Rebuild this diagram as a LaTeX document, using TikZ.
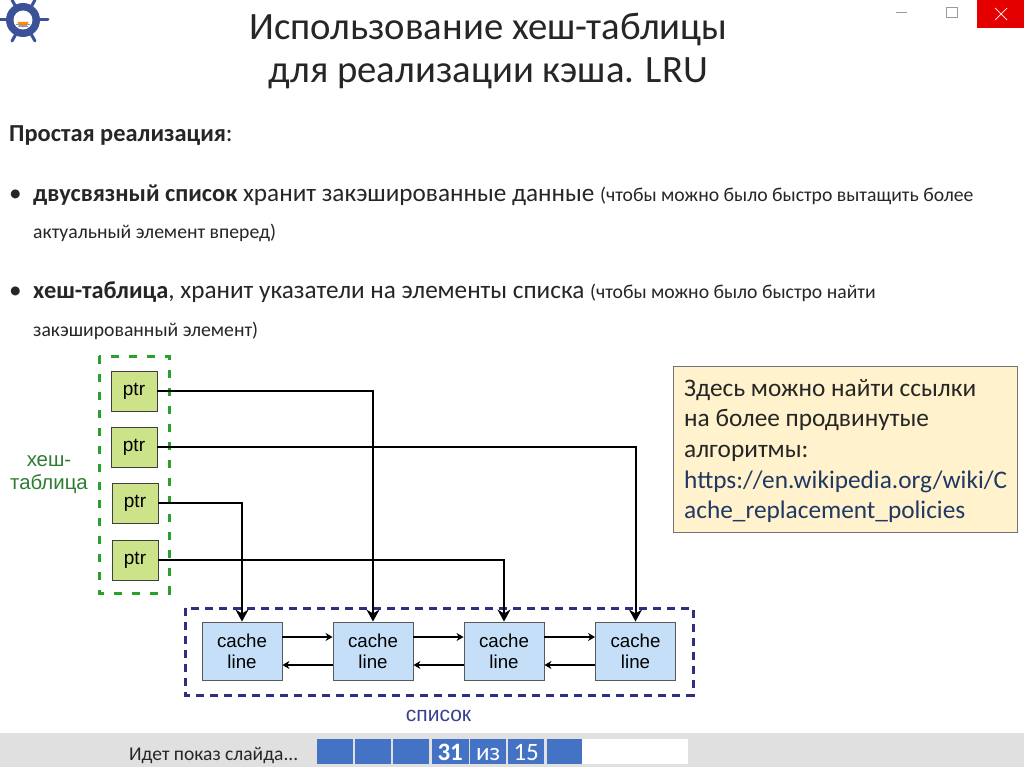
\documentclass[tikz,border=0pt]{standalone}
\usepackage{fontspec}
\setmainfont{Carlito}
\newfontfamily\arialfont{Liberation Sans}
\usetikzlibrary{arrows.meta}
\definecolor{ptrgreen}{HTML}{CDE38A}
\definecolor{dashgreen}{HTML}{2CA02C}
\definecolor{labelgreen}{HTML}{2E7D32}
\definecolor{cacheblue}{HTML}{C5DFF8}
\definecolor{listnavy}{HTML}{2F2F80}
\definecolor{labelnavy}{HTML}{3A3F8F}
\definecolor{notefill}{HTML}{FFF2CC}
\definecolor{slideblue}{HTML}{4472C4}
\definecolor{wheelblue}{HTML}{3B5296}
\definecolor{linkblue}{HTML}{1F3864}
\definecolor{softblack}{HTML}{262626}
\tikzset{
  ptrbox/.style={draw=black!75,line width=0.9pt,fill=ptrgreen,minimum width=46pt,minimum height=40pt,inner sep=0pt,font=\arialfont\fontsize{19}{19}\selectfont},
  cachebox/.style={draw=black!65,line width=0.9pt,fill=cacheblue,minimum width=80pt,minimum height=58pt,inner sep=0pt,align=center,font=\arialfont\fontsize{18.7}{21}\selectfont},
  link/.style={line width=2pt,-{Stealth[length=12pt,width=13pt]}},
  chain/.style={line width=1.1pt,-{Stealth[length=7pt,width=8pt]}},
  bodytext/.style={anchor=base west,inner sep=0pt,text=softblack,font=\fontsize{25.2}{25}\selectfont},
  smalltext/.style={bodytext,font=\fontsize{19.7}{20}\selectfont},
  segbox/.style={fill=slideblue,draw=none,minimum height=25pt,inner sep=0pt,text=white,anchor=north west,text height=17pt,text depth=0pt,font=\fontsize{25}{25}\selectfont},
  spoke/.style={line width=3pt,draw=wheelblue,line cap=round},
}
\newcommand{\boldpart}[1]{{\fontsize{24.4}{25}\selectfont\textbf{#1}}}
\newcommand{\smallpart}[1]{{\fontsize{19.7}{20}\selectfont #1}}
\begin{document}
\begin{tikzpicture}[x=1pt,y=-1pt]
\useasboundingbox (0,0) rectangle (1024,767);
\fill[white] (0,0) rectangle (1024,767);
\draw[spoke] (0,20)--(48,20);
\draw[spoke] (12,0)--(35,41);
\draw[spoke] (35,0)--(12,41);
\fill[wheelblue] (23,20) circle (17);
\fill[white] (23,20) circle (9.5);
\fill[orange!90!yellow] (23,22) ++(-5.5,0) arc[start angle=180,end angle=0,radius=5.5] -- cycle;
\draw[wheelblue!60,line width=0.8pt] (16,24)--(30,24);
\draw[wheelblue!60,line width=0.8pt] (18,26.5)--(28,26.5);
\fill[red!90!black] (977,0) rectangle (1024,28);
\draw[white,line width=0.7pt] (995,8)--(1007,20);
\draw[white,line width=0.7pt] (1007,8)--(995,20);
\draw[black!40,line width=1pt] (946,8) rectangle (957,18);
\draw[black!40,line width=1pt] (896,13)--(907,13);
\node[align=center,inner sep=0pt,text=softblack,font=\fontsize{38.7}{43}\selectfont] (title) at (488.5,51) {Использование хеш-таблицы\\для реализации кэша. LRU};
\node[bodytext] (simple) at (9,142) {\boldpart{Простая реализация}:};
\node[bodytext] (bullet1) at (9,202) {•};
\node[bodytext] (doubly) at (33,202) {\boldpart{двусвязный список} хранит закэшированные данные \smallpart{(чтобы можно было быстро вытащить более}};
\node[smalltext] (doubly2) at (33,239) {актуальный элемент вперед)};
\node[bodytext] (bullet2) at (9,298) {•};
\node[bodytext] (hash) at (33,298) {\boldpart{хеш-таблица}, хранит указатели на элементы списка \smallpart{(чтобы можно было быстро найти}};
\node[smalltext] (hash2) at (33,336) {закэшированный элемент)};
\draw[dashgreen,line width=3pt,dash pattern=on 8pt off 10pt] (99,356) rectangle (169,593);
\draw[listnavy,line width=3pt,dash pattern=on 8pt off 6pt] (185,608) rectangle (693,695);
\node[ptrbox] (ptr1) at (134,391) {ptr};
\node[ptrbox] (ptr2) at (134,447) {ptr};
\node[ptrbox] (ptr3) at (135,503) {ptr};
\node[ptrbox] (ptr4) at (135,560) {ptr};
\node[cachebox] (line1) at (242,651) {cache\\line};
\node[cachebox] (line2) at (373,651) {cache\\line};
\node[cachebox] (line3) at (504,651) {cache\\line};
\node[cachebox] (line4) at (635.5,651) {cache\\line};
\draw[link] (ptr1.east) -| (line2.north);
\draw[link] (ptr2.east) -| (line4.north);
\draw[link] (ptr3.east) -| (line1.north);
\draw[link] (ptr4.east) -| (line3.north);
\draw[chain] ([yshift=14pt]line1.east) -- ([yshift=14pt]line2.west);
\draw[chain] ([yshift=14pt]line2.east) -- ([yshift=14pt]line3.west);
\draw[chain] ([yshift=14pt]line3.east) -- ([yshift=14pt]line4.west);
\draw[chain] ([yshift=-14pt]line2.west) -- ([yshift=-14pt]line1.east);
\draw[chain] ([yshift=-14pt]line3.west) -- ([yshift=-14pt]line2.east);
\draw[chain] ([yshift=-14pt]line4.west) -- ([yshift=-14pt]line3.east);
\node[align=center,inner sep=0pt,text=labelgreen,font=\arialfont\fontsize{20.4}{23}\selectfont] (hashlabel) at (49,475) {хеш-\\таблица};
\node[inner sep=0pt,text=labelnavy,font=\arialfont\fontsize{21}{21}\selectfont] (listlabel) at (438.5,716) {список};
\node[draw=black!55,line width=0.9pt,fill=notefill,minimum width=344pt,minimum height=166pt,anchor=north west,inner sep=0pt] (note) at (673,366) {};
\node[anchor=north west,align=left,inner sep=0pt,text=softblack,font=\fontsize{25.3}{30.6}\selectfont] (notetext) at (684,379) {Здесь можно найти ссылки\\на более продвинутые\\алгоритмы:\\\textcolor{linkblue}{https://en.wikipedia.org/wiki/C}\\\textcolor{linkblue}{ache\_replacement\_policies}};
\fill[black!12] (0,733) rectangle (1024,767);
\node[anchor=base west,inner sep=0pt,text=softblack,font=\fontsize{19.5}{20}\selectfont] (showing) at (129,760) {Идет показ слайда...};
\node[segbox,minimum width=36pt] (seg1) at (317,739) {};
\node[segbox,minimum width=36pt] (seg2) at (355,739) {};
\node[segbox,minimum width=36pt] (seg3) at (393,739) {};
\node[segbox,minimum width=37pt] (seg4) at (431.5,739) {\textbf{31}};
\node[segbox,minimum width=36pt] (seg5) at (470,739) {из};
\node[segbox,minimum width=36pt] (seg6) at (508,739) {15};
\node[segbox,minimum width=35pt] (seg7) at (547,739) {};
\node[segbox,fill=white,minimum width=106pt] (seg8) at (582,739) {};
\end{tikzpicture}
\end{document}
